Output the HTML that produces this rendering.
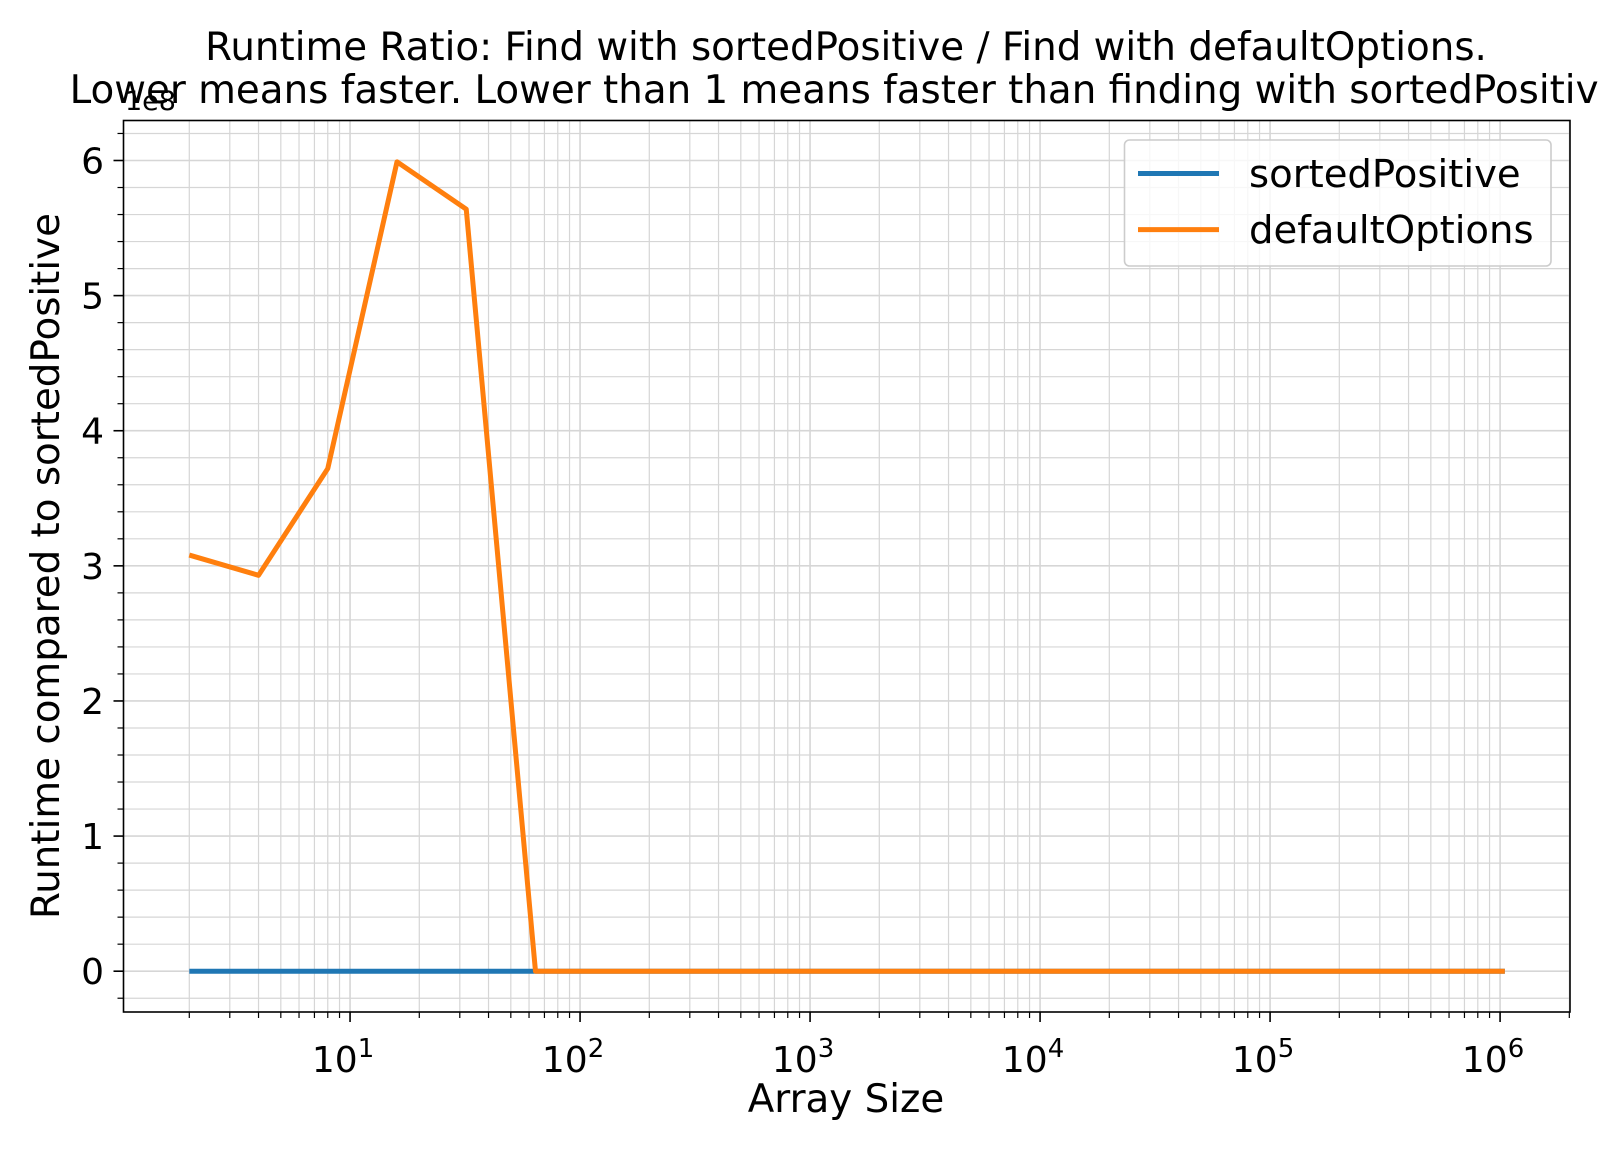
<!DOCTYPE html>
<html><head><meta charset="utf-8"><style>
body{margin:0;background:#fff}
svg{display:block;font-family:"DejaVu Sans","Liberation Sans",sans-serif}
</style></head><body>
<svg id="chart" width="1600" height="1150" viewBox="0 0 1600 1150" xmlns="http://www.w3.org/2000/svg">
<rect width="1600" height="1150" fill="#fff"/>
<g id="grid"></g>
<g id="series"></g>
<rect x="123.5" y="120.5" width="1446.5" height="891.5" fill="none" stroke="#000" stroke-width="1.6"/>
<g id="ticks"></g>
<text x="846" y="60" font-size="38.8" text-anchor="middle">Runtime Ratio: Find with sortedPositive / Find with defaultOptions.</text>
<text x="846" y="103" font-size="38.8" text-anchor="middle">Lower means faster. Lower than 1 means faster than finding with sortedPositive</text>
<text x="125" y="110" font-size="27">1e8</text>
<text x="846" y="1112" font-size="38.8" text-anchor="middle">Array Size</text>
<text transform="translate(59,566) rotate(-90)" font-size="38.8" text-anchor="middle">Runtime compared to sortedPositive</text>
<g>
<rect x="1124.5" y="140" width="426.5" height="126" rx="5" fill="#fff" fill-opacity="0.8" stroke="#ccc" stroke-width="1.6"/>
<line x1="1138" y1="173.5" x2="1219" y2="173.5" stroke="#1f77b4" stroke-width="5"/>
<text x="1249" y="187" font-size="38.6">sortedPositive</text>
<line x1="1138" y1="229.6" x2="1219" y2="229.6" stroke="#ff7f0e" stroke-width="5"/>
<text x="1249" y="243" font-size="38.6">defaultOptions</text>
</g>
</svg>
<script>
const sizes=[2,4,8,16,32,64,128,256,512,1024,2048,4096,8192,16384,32768,65536,131072,262144,524288,1048576];
const sortedPositive=[1,1,1,1,1,1,1,1,1,1,1,1,1,1,1,1,1,1,1,1];
const defaultOptions=[3.08e8,2.93e8,3.72e8,5.99e8,5.64e8,1.2,1.1,1.05,1.02,1.0,1.0,1.0,1.0,1.0,1.0,1.0,1.0,1.0,1.0,1.0];
const xTickLabels=["1","2","3","4","5","6"];
const yTickLabels=["0","1","2","3","4","5","6"];
const NS="http://www.w3.org/2000/svg";
const L=123.5,R=1570,T=120.5,B=1012;
const lxMin=0.015,lxMax=6.304,yMin=-0.302e8,yMax=6.296e8;
function xs(v){return L+(Math.log10(v)-lxMin)/(lxMax-lxMin)*(R-L);}
function ys(v){return B-(v-yMin)/(yMax-yMin)*(B-T);}
function mk(tag,attrs,parent){const e=document.createElementNS(NS,tag);for(const k in attrs)e.setAttribute(k,attrs[k]);parent.appendChild(e);return e;}
const grid=document.getElementById('grid'),ticks=document.getElementById('ticks'),series=document.getElementById('series');
for(let d=0;d<=6;d++){for(let m=1;m<=9;m++){const v=m*Math.pow(10,d);const x=xs(v);if(x<L||x>R)continue;
const g=mk('line',{x1:x,x2:x,y1:T,y2:B,stroke:'#d6d6d6','stroke-width':m===1?1.6:1.2},grid);


const t=mk('line',{x1:x,x2:x,y1:B,y2:B+(m===1?10:6),stroke:'#000','stroke-width':m===1?1.6:1.2},ticks);

}}
for(let i=-1;i<=31;i++){const v=i*0.2e8;const y=ys(v);if(y<T||y>B)continue;const major=i%5===0;
const g=mk('line',{x1:L,x2:R,y1:y,y2:y,stroke:'#d6d6d6','stroke-width':major?1.6:1.2},grid);


const t=mk('line',{x1:L-(major?10:6),x2:L,y1:y,y2:y,stroke:'#000','stroke-width':major?1.6:1.2},ticks);

}
xTickLabels.forEach(function(p){const x=xs(Math.pow(10,+p));
const t=mk('text',{x:x-7,y:1072,'font-size':36,'text-anchor':'middle'},ticks);
t.textContent='10';
const s=mk('tspan',{dy:-15,'font-size':26},t);s.textContent=p;

});
yTickLabels.forEach(function(p){const y=ys(+p*1e8);
const t=mk('text',{x:104,y:y+13,'font-size':36,'text-anchor':'end'},ticks);t.textContent=p;

});
function line(vals,color,name){const d=sizes.map(function(s,i){return (i?'L':'M')+xs(s).toFixed(2)+','+ys(vals[i]).toFixed(2);}).join(' ');
const p=mk('path',{d:d,fill:'none',stroke:color,'stroke-width':5,'stroke-linejoin':'round'},series);

}
line(sortedPositive,'#1f77b4','line-sortedpositive');
line(defaultOptions,'#ff7f0e','line-defaultoptions');
</script>
</body></html>
